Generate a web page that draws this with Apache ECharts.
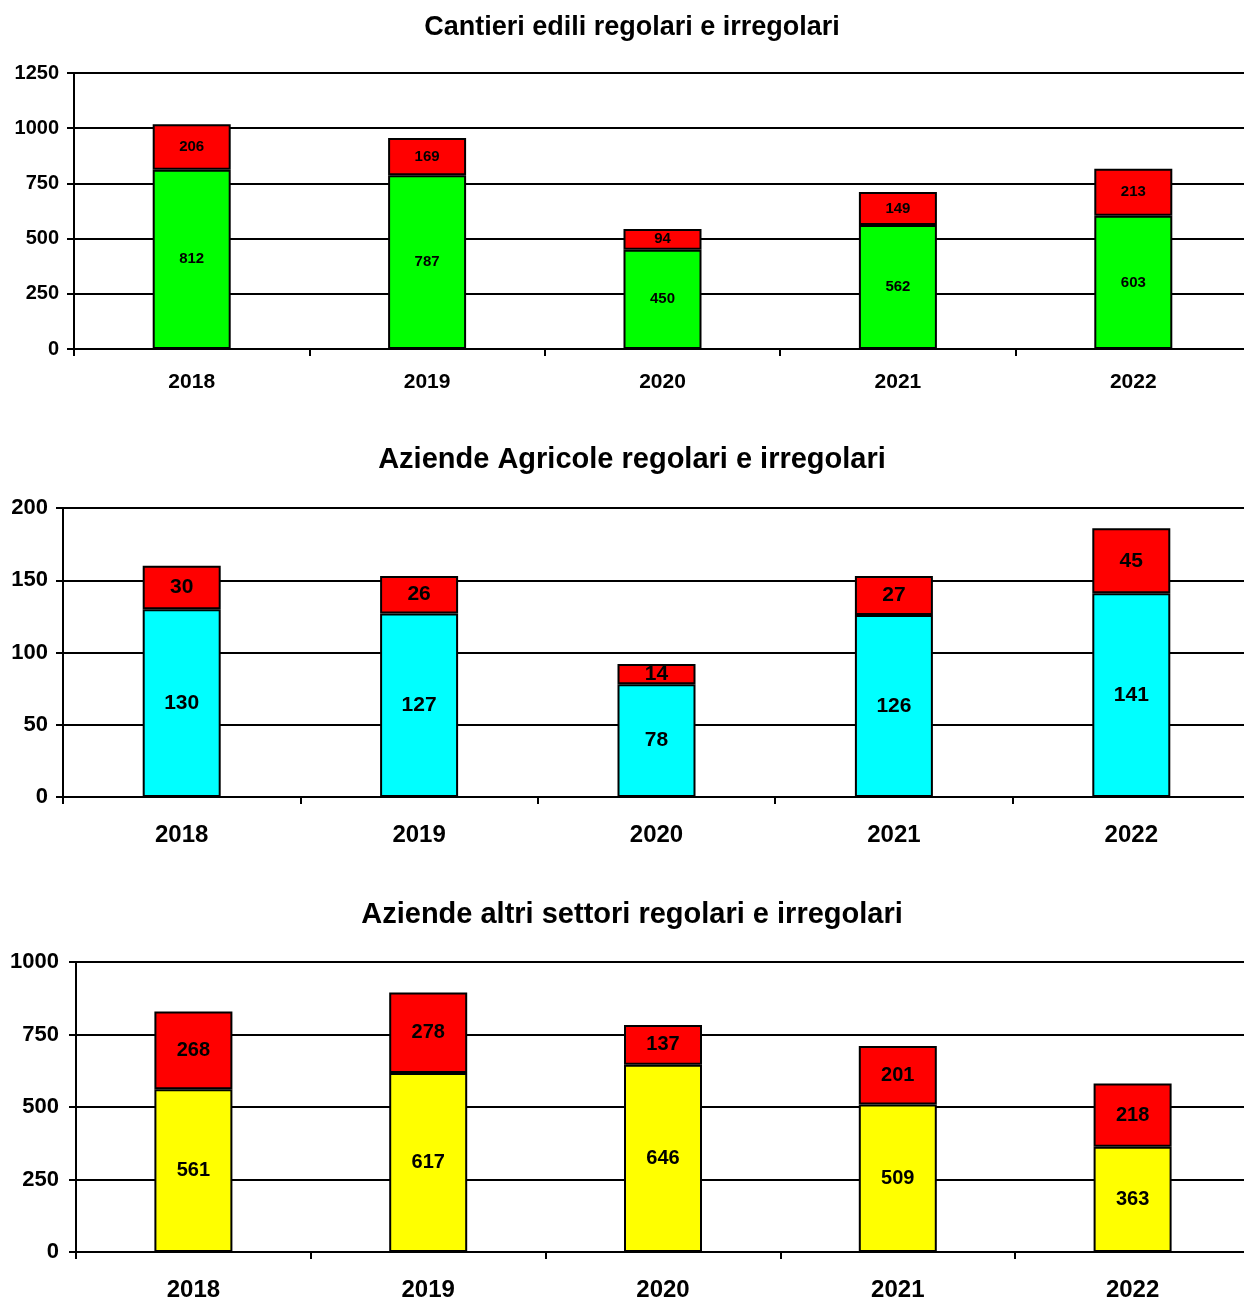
<!DOCTYPE html>
<html>
<head>
<meta charset="utf-8">
<script src="https://cdn.jsdelivr.net/npm/echarts@6/dist/echarts.min.js"></script>
<style>
  html, body { margin: 0; padding: 0; background: #fff; }
  #chart { width: 1244px; height: 1299px; }
</style>
</head>
<body>
<div id="chart"></div>
<script>
// Years shown on every panel
const years = ['2018', '2019', '2020', '2021', '2022'];

// Cantieri edili
const edilRegolari = [812, 787, 450, 562, 603];
const edilIrregolari = [206, 169, 94, 149, 213];

// Aziende agricole
const agriRegolari = [130, 127, 78, 126, 141];
const agriIrregolari = [30, 26, 14, 27, 45];

// Aziende altri settori
const altriRegolari = [561, 617, 646, 509, 363];
const altriIrregolari = [268, 278, 137, 201, 218];

const titles = [
  'Cantieri edili regolari e irregolari',
  'Aziende Agricole regolari e irregolari',
  'Aziende altri settori regolari e irregolari'
];

const FONT = 'Liberation Sans, Arial, sans-serif';
const black = '#000';

const panels = [
  { grid: { left: 74, top: 73, height: 276, width: 1177 }, titleTop: 9, titleSize: 27,
    xSize: 21, xMargin: 23, ySize: 20, yMargin: 15, max: 1250, interval: 250,
    reg: edilRegolari, irr: edilIrregolari, color: '#00ff00', labelSize: 15 },
  { grid: { left: 63, top: 508, height: 289, width: 1187 }, titleTop: 440, titleSize: 29,
    xSize: 24, xMargin: 26, ySize: 22, yMargin: 15, max: 200, interval: 50,
    reg: agriRegolari, irr: agriIrregolari, color: '#00ffff', labelSize: 21 },
  { grid: { left: 76, top: 962, height: 290, width: 1174 }, titleTop: 895, titleSize: 29,
    xSize: 24, xMargin: 26, ySize: 22, yMargin: 17, max: 1000, interval: 250,
    reg: altriRegolari, irr: altriIrregolari, color: '#ffff00', labelSize: 20 }
];

const option = {
  animation: false,
  backgroundColor: '#fff',
  title: [], grid: [], xAxis: [], yAxis: [], series: []
};

panels.forEach((p, i) => {
  option.title.push({
    text: titles[i], left: 627, top: p.titleTop, textAlign: 'center',
    textStyle: { fontFamily: FONT, fontWeight: 'bold', fontSize: p.titleSize, color: black }
  });
  // plot area runs slightly past the right edge of the page
  option.grid.push(Object.assign({ containLabel: false, outerBoundsMode: 'none' }, p.grid));
  option.xAxis.push({
    type: 'category', gridIndex: i, data: years, boundaryGap: true,
    axisLine: { show: true, lineStyle: { color: black, width: 2 } },
    axisTick: { show: true, length: 7, alignWithLabel: false, lineStyle: { color: black, width: 2 } },
    axisLabel: { margin: p.xMargin, fontFamily: FONT, fontWeight: 'bold', fontSize: p.xSize, color: black },
    splitLine: { show: false }
  });
  option.yAxis.push({
    type: 'value', gridIndex: i, min: 0, max: p.max, interval: p.interval,
    axisLine: { show: true, lineStyle: { color: black, width: 2 } },
    axisTick: { show: true, length: 7, lineStyle: { color: black, width: 2 } },
    axisLabel: { margin: p.yMargin, formatter: v => String(v),
      fontFamily: FONT, fontWeight: 'bold', fontSize: p.ySize, color: black },
    splitLine: { show: true, lineStyle: { color: black, width: 2 } }
  });
  const common = {
    type: 'bar', xAxisIndex: i, yAxisIndex: i, stack: 'tot' + i, barWidth: 78,
    label: { show: true, position: 'inside', formatter: '{c}',
      fontFamily: FONT, fontWeight: 'bold', fontSize: p.labelSize, color: black },
    itemStyle: { borderColor: black, borderWidth: 2 }
  };
  option.series.push(Object.assign({}, common, {
    name: 'regolari', data: p.reg,
    itemStyle: Object.assign({}, common.itemStyle, { color: p.color })
  }));
  option.series.push(Object.assign({}, common, {
    name: 'irregolari', data: p.irr,
    itemStyle: Object.assign({}, common.itemStyle, { color: '#ff0000' })
  }));
});

const chart = echarts.init(document.getElementById('chart'), null, { renderer: 'canvas' });
chart.setOption(option);
</script>
</body>
</html>
